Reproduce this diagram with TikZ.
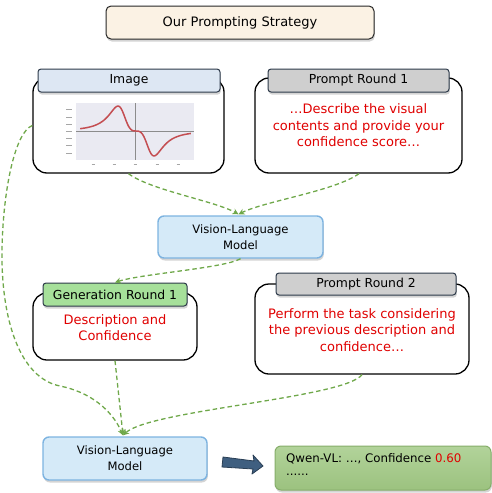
\documentclass[tikz,border=0pt]{standalone}
\usepackage{fontspec}
\setmainfont{DejaVu Sans}
\usetikzlibrary{shadows,arrows.meta,calc}
\definecolor{titlefill}{HTML}{FBF2E4}
\definecolor{hdrblue}{HTML}{DDE7F3}
\definecolor{hdrgray}{HTML}{CFCFCF}
\definecolor{hdrgreen}{HTML}{A6E09A}
\definecolor{hdrborder}{HTML}{2D3A4A}
\definecolor{vlmfill}{HTML}{D5EAF8}
\definecolor{vlmborder}{HTML}{7DB3E0}
\definecolor{redtext}{HTML}{E00000}
\definecolor{flowgreen}{HTML}{6FA84A}
\definecolor{restop}{HTML}{B2D39A}
\definecolor{resbot}{HTML}{9CC27F}
\definecolor{resborder}{HTML}{86AE6A}
\definecolor{plotbg}{HTML}{EAEAF2}
\definecolor{plotred}{HTML}{C44E52}
\definecolor{arrowfill}{HTML}{3F5F80}
\definecolor{arrowborder}{HTML}{2A3F55}
\tikzset{
  shadowed/.style={drop shadow={shadow xshift=0.8pt,shadow yshift=-2.5pt,opacity=0.28,fill=black!60}},
  outerbox/.style={draw=black,line width=1.3pt,rounded corners=14pt,fill=white,inner sep=0pt},
  hdr/.style={draw=hdrborder,line width=1pt,rounded corners=3pt,shadowed,inner sep=0pt,
    font=\fontsize{12.4}{15}\selectfont},
  titlebox/.style={draw=black!85,line width=1pt,rounded corners=5pt,fill=titlefill,shadowed,inner sep=0pt,
    font=\fontsize{13}{16}\selectfont},
  vlm/.style={draw=vlmborder,line width=1.4pt,fill=vlmfill,rounded corners=6pt,shadowed,inner sep=0pt,
    align=center,font=\fontsize{11.6}{16}\selectfont},
  redtxt/.style={text=redtext,align=center,inner sep=0pt,font=\fontsize{13}{16.5}\selectfont},
  result/.style={draw=resborder,line width=1pt,rounded corners=6pt,top color=restop,bottom color=resbot,
    shadowed,inner sep=0pt},
  flow/.style={draw=flowgreen,line width=1.3pt,dash pattern=on 4.5pt off 3pt,
    -{Stealth[length=6pt,width=6pt,fill=flowgreen]}},
  tick/.style={draw=black!35,line width=0.6pt}
}
\begin{document}
\begin{tikzpicture}[x=1pt,y=-1pt]
\useasboundingbox (0,0) rectangle (492,493);
% title
\node[titlebox,minimum width=268pt,minimum height=33pt] (title) at (240,22.5) {Our Prompting Strategy};
% outer boxes
\node[outerbox,minimum width=191pt,minimum height=95pt] (imgbox) at (128.5,125.5) {};
\node[outerbox,minimum width=207pt,minimum height=95pt] (pone) at (358.5,125.5) {};
\node[outerbox,minimum width=164pt,minimum height=67pt] (genbox) at (115,326.5) {};
\node[outerbox,minimum width=214pt,minimum height=90pt] (ptwo) at (362,329) {};
% headers
\node[hdr,fill=hdrblue,minimum width=182pt,minimum height=23pt] (imghdr) at (129,80.5) {Image};
\node[hdr,fill=hdrgray,minimum width=181pt,minimum height=23pt] (ponehdr) at (358.5,80.5) {Prompt Round 1};
\node[hdr,fill=hdrgreen,minimum width=144pt,minimum height=23pt] (genhdr) at (115,294.5) {Generation Round 1};
\node[hdr,fill=hdrgray,minimum width=180pt,minimum height=22pt] (ptwohdr) at (366,284) {Prompt Round 2};
% plot
\fill[plotbg] (76,103) rectangle (194,160);
\draw[black!45,line width=0.7pt] (135.5,103) -- (135.5,160);
\draw[black!45,line width=0.7pt] (76,131) -- (194,131);
\foreach \yy in {109,117,124,131,138,145,153} \draw[tick] (66,\yy) -- (72,\yy);
\foreach \xx in {93,114,135,157,178} \draw[tick] (\xx-1.5,164) -- (\xx+1.5,164);
\draw[plotred,line width=1.5pt,smooth] plot[domain=-3.1:3.05,samples=90]
  ({136+18*\x},{131+70.6*(\x*\x*\x)/((1+\x*\x*\x*\x)^1.5)});
% texts
\node[redtxt] (ponetxt) at (358.5,125.5) {…Describe the visual\\contents and provide your\\confidence score…};
\node[redtxt] (gentxt) at (115,327.5) {Description and\\Confidence};
\node[redtxt] (ptwotxt) at (362,330) {Perform the task considering\\the previous description and\\confidence…};
% VLM boxes
\node[vlm,minimum width=165pt,minimum height=42pt] (vlmone) at (240.5,237) {Vision-Language\\Model};
\node[vlm,minimum width=164pt,minimum height=43pt] (vlmtwo) at (125,458.5) {Vision-Language\\Model};
% result
\node[result,minimum width=216pt,minimum height=44pt] (res) at (383,468) {};
\node[anchor=west,inner sep=0pt,font=\fontsize{11.8}{15}\selectfont] (restxt) at (286,458.5) {Qwen-VL: …, Confidence \textcolor{redtext}{0.60}};
\node[anchor=west,inner sep=0pt,font=\fontsize{11.8}{15}\selectfont] (resdots) at (286,475) {......};
% block arrow
\draw[fill=arrowfill,draw=arrowborder,line width=0.8pt,line join=round]
  (223,457) -- (254,461) -- (253,455) -- (263,466) -- (252,474) -- (253,469) -- (222,467) -- cycle;
% connectors
\coordinate (vonetip) at ($(vlmone.north)+(-2,-1)$);
\coordinate (vtwotip) at ($(vlmtwo.north)+(-2,-1)$);
\draw[flow] (imgbox.south) .. controls (150,190) and (215,201) .. (vonetip);
\draw[flow] ($(pone.south)+(0.5,0)$) .. controls (335,191) and (265,201) .. (vonetip);
\draw[flow] (vlmone.south) .. controls (225,268) and (140,274) .. (genhdr.north);
\draw[flow] (genbox.south) -- (vtwotip);
\draw[flow] (ptwo.south) .. controls (345,398) and (150,410) .. (vtwotip);
\draw[flow] (imgbox.west) .. controls (15,132) and (3,190) .. (2,250)
  .. controls (1,320) and (20,378) .. (60,386)
  .. controls (90,392) and (112,410) .. (vtwotip);
\end{tikzpicture}
\end{document}
